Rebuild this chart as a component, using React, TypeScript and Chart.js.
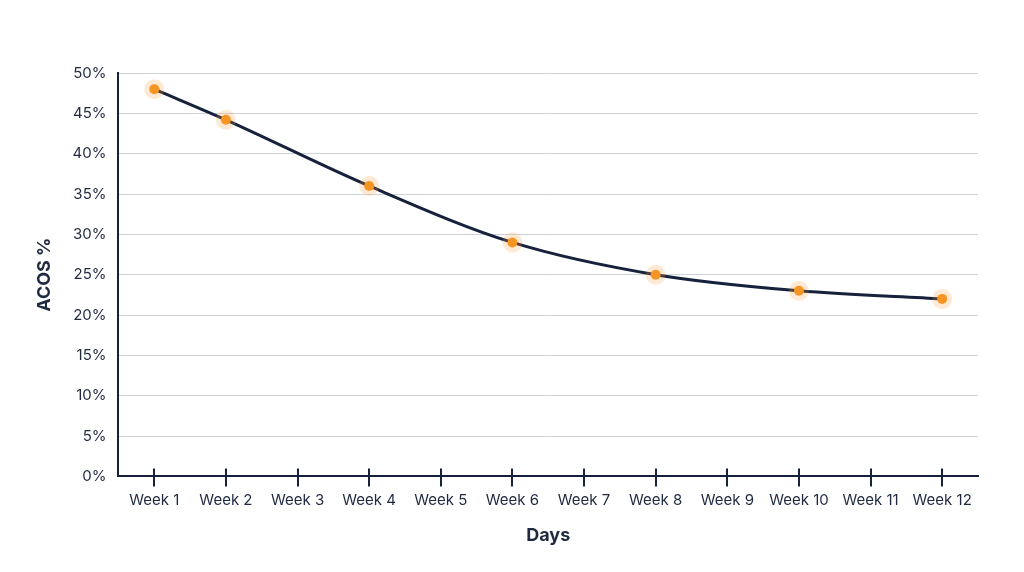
import React, { useEffect, useRef } from "react";
import { Chart, registerables } from "chart.js";

Chart.register(...registerables);

const categories = ["Week 1","Week 2","Week 3","Week 4","Week 5","Week 6","Week 7","Week 8","Week 9","Week 10","Week 11","Week 12"];
const acosValues: (number | null)[] = [48, 44.2, null, 36, null, 29, null, 25, null, 23, null, 22];
const yMin = 0;
const yMax = 50;
const yStep = 5;

const NAVY = "#16223b";
const TEXT = "#1f2940";

const crossTicks = {
  id: "crossTicks",
  afterDatasetsDraw(chart: any) {
    const x = chart.scales.x;
    const ctx = chart.ctx;
    ctx.save();
    ctx.strokeStyle = NAVY;
    ctx.lineWidth = 2;
    for (let i = 0; i < x.ticks.length; i++) {
      const px = Math.round(x.getPixelForTick(i));
      ctx.beginPath();
      ctx.moveTo(px, x.top - 8);
      ctx.lineTo(px, x.top + 10);
      ctx.stroke();
    }
    ctx.restore();
  },
};

export default function App() {
  const ref = useRef<HTMLCanvasElement>(null);
  useEffect(() => {
    document.body.style.margin = "0";
    const chart = new Chart(ref.current!, {
      type: "line",
      data: {
        labels: categories,
        datasets: [
          {
            data: acosValues,
            spanGaps: true,
            borderColor: NAVY,
            borderWidth: 3,
            cubicInterpolationMode: "monotone",
            pointRadius: 5,
            pointBackgroundColor: "#f7931e",
            pointBorderColor: "rgba(250,160,60,0.22)",
            pointBorderWidth: 10,
            pointHoverRadius: 5,
          },
        ],
      },
      options: {
        animation: false,
        responsive: false,
        maintainAspectRatio: false,
        layout: { padding: { left: 30, right: 46, top: 73, bottom: 22 } },
        plugins: { legend: { display: false }, tooltip: { enabled: false } },
        scales: {
          x: {
            offset: true,
            grid: { display: false, drawTicks: false },
            border: { display: true, color: NAVY, width: 2 },
            ticks: { color: TEXT, font: { family: "Inter", size: 15 }, padding: 15, maxRotation: 0 },
            title: { display: true, text: "Days", color: TEXT, font: { family: "Inter", size: 18, weight: "bold" }, padding: { top: 0 } },
          },
          y: {
            min: yMin,
            max: yMax,
            grid: { color: "#cfd3d9", lineWidth: 1, drawTicks: false },
            border: { display: true, color: NAVY, width: 2 },
            ticks: {
              stepSize: yStep,
              color: TEXT,
              padding: 12,
              font: { family: "Inter", size: 15 },
              callback: (v: any) => v + "%",
            },
            title: { display: true, text: "ACOS %", color: TEXT, font: { family: "Inter", size: 18, weight: "bold" }, padding: { bottom: 5 } },
          },
        },
      },
      plugins: [crossTicks],
    });
    return () => chart.destroy();
  }, []);
  return (
    <div style={{ width: 1024, height: 572, background: "#fff" }}>
      <canvas ref={ref} width={1024} height={572} />
    </div>
  );
}
